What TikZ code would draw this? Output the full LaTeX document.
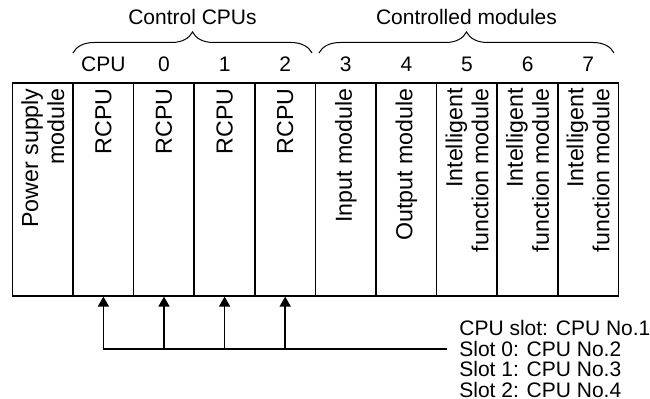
\documentclass[tikz,border=0pt]{standalone}
\usepackage{fontspec}
\setmainfont{Liberation Sans}
\usetikzlibrary{arrows.meta, positioning, decorations.pathreplacing}

\begin{document}
\begin{tikzpicture}[
        x=0.5pt, y=-0.5pt,
        every node/.style={font=\fontsize{10.5}{12.5}\selectfont},
        slotbox/.style={rectangle, draw, line width=0.8pt, minimum width=30.3pt,
            minimum height=106.5pt, inner sep=0pt, anchor=north west},
        slottext/.style={rotate=90, anchor=east, align=right, inner sep=0pt,
            font=\fontsize{11.6}{13}\selectfont},
        brc/.style={decorate, decoration={brace, amplitude=10.5pt}, line width=0.5pt},
        bus/.style={line width=0.8pt},
        arr/.style={line width=0.8pt, -{Triangle[length=5pt, width=5.5pt]}}
    ]
    \useasboundingbox (0,0) rectangle (650,399);
    % base unit with its slots
    \foreach \i/\txt in {0/{Power supply\\module}, 1/RCPU, 2/RCPU, 3/RCPU, 4/RCPU,
        5/{Input module}, 6/{Output module}, 7/{Intelligent\\function module},
        8/{Intelligent\\function module}, 9/{Intelligent\\function module}}{
        \node (m\i) [slotbox] at ({11.7+60.6*\i},82) {};
        \node (t\i) [slottext] at ([yshift=-3pt]m\i.north) {\txt};
    }
    % slot numbers
    \foreach \i/\lab in {1/CPU, 2/0, 3/1, 4/2, 5/3, 6/4, 7/5, 8/6, 9/7}
        \node (n\i) [anchor=base] at ([yshift=5pt]m\i.north) {\lab};

    % groups
    \coordinate (ga) at (73,53);
    \coordinate (gb) at (312,53);
    \coordinate (gc) at (319,53);
    \coordinate (gd) at (614,53);
    \draw [brc] (ga) -- (gb);
    \draw [brc] (gc) -- (gd);
    \node (ctl)  [anchor=base] at (192.5,25) {Control CPUs};
    \node (ctld) [anchor=base] at (466.5,25) {Controlled modules};

    % CPU numbers
    \coordinate (busend) at (446.7,349);
    \draw [bus] (m1.south |- busend) -- (busend);
    \foreach \i in {1,...,4}
        \draw [arr] (m\i.south |- busend) -- (m\i.south);
    \node (legend) [anchor=north west, align=left, inner sep=0pt,
        font=\fontsize{10.5}{10.25}\selectfont] at (459,320)
        {CPU slot: CPU No.1\\Slot 0: CPU No.2\\Slot 1: CPU No.3\\Slot 2: CPU No.4};
\end{tikzpicture}
\end{document}
